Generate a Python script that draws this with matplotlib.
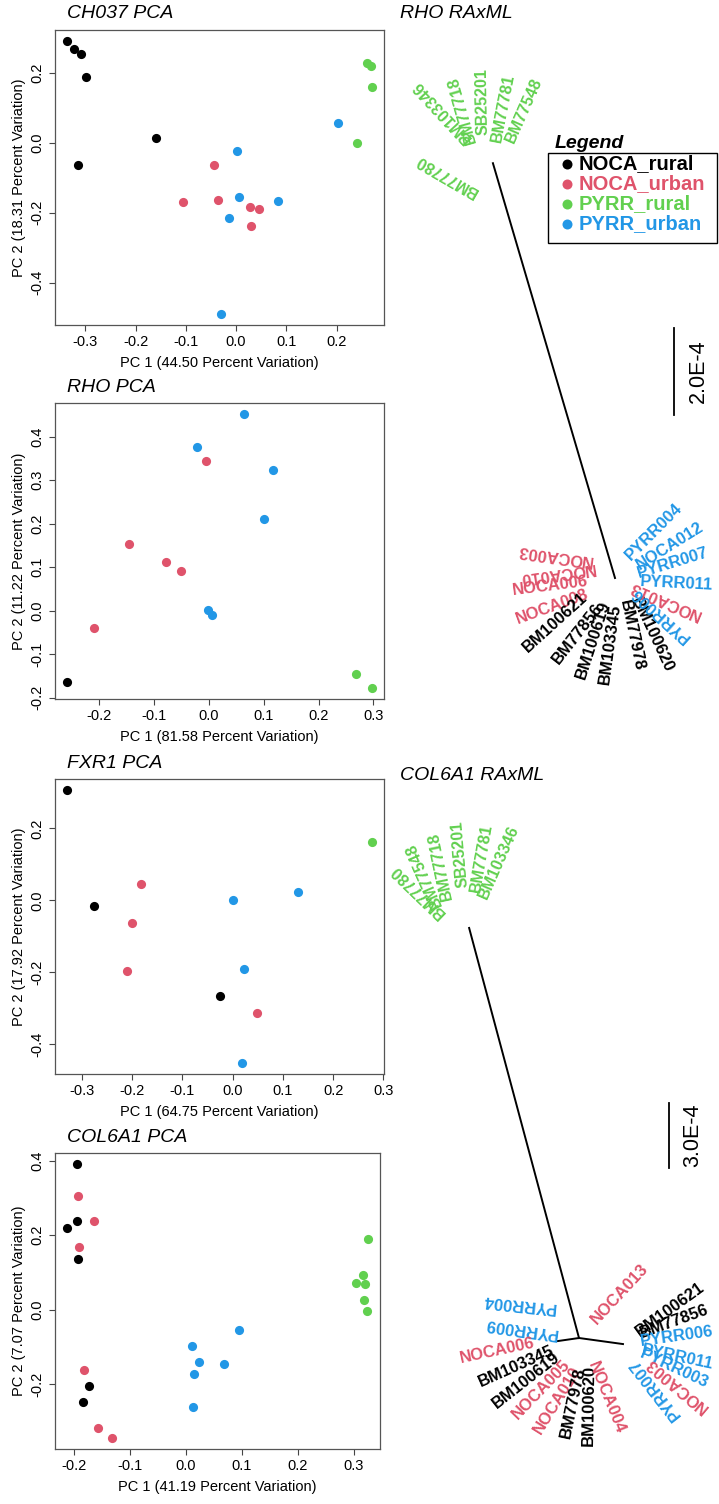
import numpy as np
import matplotlib.pyplot as plt
from matplotlib.patches import Rectangle
from matplotlib.lines import Line2D
from matplotlib.ticker import MultipleLocator, FuncFormatter

plt.rcParams['font.family'] = ['Liberation Sans', 'DejaVu Sans']
plt.rcParams['axes.unicode_minus'] = False

W, H = 719, 1504

# groups and colours (R 4 default palette)
group_names = ['NOCA_rural', 'NOCA_urban', 'PYRR_rural', 'PYRR_urban']
group_colors = ['#000000', '#DF536B', '#61D04F', '#2297E6']

# ---- PCA data (0 = NOCA_rural, 1 = NOCA_urban, 2 = PYRR_rural, 3 = PYRR_urban)
ch037_pc1 = [-0.336, -0.322, -0.308, -0.299, -0.159, -0.315,
             -0.105, -0.043, -0.035, 0.028, 0.046, 0.029,
             0.261, 0.268, 0.270, 0.241,
             0.001, 0.005, -0.015, 0.084, 0.203, -0.030]
ch037_pc2 = [0.291, 0.267, 0.255, 0.188, 0.013, -0.065,
             -0.170, -0.064, -0.164, -0.185, -0.190, -0.239,
             0.229, 0.218, 0.158, 0.000,
             -0.024, -0.154, -0.214, -0.167, 0.057, -0.490]
ch037_grp = [0] * 6 + [1] * 6 + [2] * 4 + [3] * 6

rho_pc1 = [-0.258,
           -0.210, -0.145, -0.078, -0.051, -0.006,
           0.269, 0.297,
           0.065, -0.022, 0.117, 0.101, -0.001, 0.005]
rho_pc2 = [-0.165,
           -0.040, 0.153, 0.112, 0.091, 0.344,
           -0.145, -0.178,
           0.452, 0.376, 0.323, 0.211, 0.001, -0.009]
rho_grp = [0] + [1] * 5 + [2] * 2 + [3] * 6

fxr1_pc1 = [-0.329, -0.275, -0.026,
            -0.182, -0.201, -0.211, 0.049,
            0.277,
            0.000, 0.130, 0.022, 0.019]
fxr1_pc2 = [0.307, -0.016, -0.267,
            0.045, -0.062, -0.195, -0.312,
            0.163,
            0.000, 0.023, -0.190, -0.452]
fxr1_grp = [0] * 3 + [1] * 4 + [2] + [3] * 4

col6a1_pc1 = [-0.195, -0.195, -0.2125, -0.193, -0.1725, -0.1845,
              -0.193, -0.165, -0.192, -0.182, -0.157, -0.1325,
              0.325, 0.303, 0.317, 0.320, 0.318, 0.323,
              0.095, 0.010, 0.023, 0.067, 0.015, 0.012]
col6a1_pc2 = [0.391, 0.2375, 0.219, 0.135, -0.204, -0.247,
              0.304, 0.239, 0.167, -0.161, -0.316, -0.344,
              0.190, 0.072, 0.092, 0.068, 0.025, -0.003,
              -0.055, -0.096, -0.141, -0.146, -0.172, -0.261]
col6a1_grp = [0] * 6 + [1] * 6 + [2] * 6 + [3] * 6

pca_titles = ['CH037 PCA', 'RHO PCA', 'FXR1 PCA', 'COL6A1 PCA']
pca_pc1_var = ['44.50', '81.58', '64.75', '41.19']
pca_pc2_var = ['18.31', '11.22', '17.92', '7.07']
pca_ystep = [0.2, 0.1, 0.2, 0.2]

# ---- RAxML trees (branch lengths in units of 1e-4 substitutions)
rho_branch_len, rho_branch_ang = 9.94, 106.4
rho_green_names = ['BM103346', 'BM77718', 'SB25201', 'BM77781', 'BM77548', 'BM77780']
rho_green_dx = [-0.57, -0.48, -0.23, 0.09, 0.39, -0.37]
rho_green_dy = [0.53, 0.46, 0.64, 0.48, 0.48, -0.69]
rho_green_rot = [133, 106, 91, 79, 66, 150]

rho_tip_names = ['NOCA003', 'NOCA010', 'NOCA006', 'NOCA008',
                 'BM100621', 'BM77856', 'BM100619', 'BM103345', 'BM77978', 'BM100620',
                 'PYRR004', 'NOCA012', 'PYRR007', 'PYRR011', 'NOCA013', 'PYRR006']
rho_tip_grp = [1, 1, 1, 1, 0, 0, 0, 0, 0, 0, 3, 3, 3, 3, 1, 3]
rho_tip_dx = [-0.53, -0.46, -0.62, -0.62, -0.69, -0.34, -0.21, 0.02, 0.21, 0.46,
              0.30, 0.51, 0.53, 0.57, 0.34, 0.41]
rho_tip_dy = [0.41, 0.25, -0.07, -0.37, -0.41, -0.64, -0.55, -0.60, -0.51, -0.46,
              0.46, 0.28, 0.11, -0.09, -0.16, -0.28]
rho_tip_rot = [172, 188, 7, 20, 42, 52, 72, 82, -78, -65, 45, 32, 17, -3, 157, 138]
rho_tip_ha = ['left', 'left', 'right', 'right', 'right', 'right', 'right', 'right',
              'left', 'left', 'left', 'left', 'left', 'left', 'right', 'right']

col_branch_len, col_branch_ang = 19.59, 105.0
col_sub_dx = [-0.97, 2.03]
col_sub_dy = [-0.14, -0.28]
col_green_names = ['BM77780', 'BM77548', 'BM77718', 'SB25201', 'BM77781', 'BM103346']
col_green_dx = [-1.20, -1.43, -1.02, -0.28, 0.28, 0.65]
col_green_dy = [0.60, 0.97, 1.29, 1.85, 1.66, 1.38]
col_green_rot = [136, 114, 102, 95, 80, 66]

col_tip_names = ['PYRR004', 'PYRR009', 'NOCA006', 'BM103345', 'BM100619', 'NOCA005',
                 'NOCA010', 'BM77978', 'BM100620', 'NOCA004', 'NOCA013',
                 'BM100621', 'BM77856', 'PYRR006', 'PYRR011', 'PYRR003', 'NOCA003', 'PYRR007']
col_tip_grp = [3, 3, 1, 0, 0, 1, 1, 0, 0, 1, 1, 0, 0, 3, 3, 3, 1, 3]
col_tip_dx = [-1.11, -1.02, -2.03, -1.20, -0.97, -0.51, -0.09, 0.09, 0.51, 0.60, 0.69,
              2.68, 2.81, 2.81, 2.91, 2.85, 3.18, 2.45]
col_tip_dy = [1.43, 0.23, -0.23, -0.55, -0.83, -1.11, -1.38, -1.34, -1.25, -1.11, 0.74,
              0.23, 0.18, -0.18, -0.55, -0.70, -1.02, -1.02]
col_tip_rot = [174, 172, 12, 24, 38, 46, 58, 78, 89, -68, 47, 36, 20, 8, -12, -25, 140, 128]
col_tip_ha = ['left', 'left', 'right', 'right', 'right', 'right', 'right', 'right', 'right',
              'left', 'left', 'left', 'left', 'left', 'left', 'left', 'right', 'right']


fig = plt.figure(figsize=(W / 100, H / 100), dpi=100)


def px_axes(l, t, r, b):
    return fig.add_axes([l / W, 1 - b / H, (r - l) / W, (b - t) / H])


def fmt(v, p):
    return f'{round(v, 1) + 0:.1f}'


pca_x = [ch037_pc1, rho_pc1, fxr1_pc1, col6a1_pc1]
pca_y = [ch037_pc2, rho_pc2, fxr1_pc2, col6a1_pc2]
pca_g = [ch037_grp, rho_grp, fxr1_grp, col6a1_grp]
pca_box = [(55, 30, 384, 325), (55, 403, 384, 699), (55, 779, 384, 1074), (55, 1153, 380, 1449)]

for i in range(4):
    l, t, r, b = pca_box[i]
    ax = px_axes(l, t, r, b)
    x = np.array(pca_x[i])
    y = np.array(pca_y[i])
    g = np.array(pca_g[i])
    for k in range(4):
        m = g == k
        ax.plot(x[m], y[m], 'o', ms=6.6, mew=0, color=group_colors[k])
    ax.margins(0.04)
    ax.xaxis.set_major_locator(MultipleLocator(0.1))
    ax.yaxis.set_major_locator(MultipleLocator(pca_ystep[i]))
    ax.xaxis.set_major_formatter(FuncFormatter(fmt))
    ax.yaxis.set_major_formatter(FuncFormatter(fmt))
    ax.tick_params(direction='out', length=4.5, width=0.8, color='#444444',
                   labelsize=10.5, pad=3)
    plt.setp(ax.get_yticklabels(), rotation=90, va='center')
    for s in ax.spines.values():
        s.set_color('#555555')
        s.set_linewidth(0.9)
    w, h = r - l, b - t
    ax.text(0.5, -38 / h, f'PC 1 ({pca_pc1_var[i]} Percent Variation)', transform=ax.transAxes,
            ha='center', va='center', fontsize=10.5)
    ax.text(-36 / w, 0.5, f'PC 2 ({pca_pc2_var[i]} Percent Variation)', transform=ax.transAxes,
            ha='center', va='center', rotation=90, fontsize=10.5)
    fig.text(67 / W, 1 - (t - 16) / H, pca_titles[i], ha='left', va='center',
             fontsize=14, style='italic')


def tree_axes(box, root, scale):
    l, t, r, b = box
    ax = px_axes(l, t, r, b)
    ax.set_xlim((l - root[0]) / scale, (r - root[0]) / scale)
    ax.set_ylim((root[1] - b) / scale, (root[1] - t) / scale)
    ax.axis('off')
    return ax


def put_labels(ax, ox, oy, names, grp, dx, dy, rot, ha, size):
    for n, c, a, b_, rr, h in zip(names, grp, dx, dy, rot, ha):
        ax.text(ox + a, oy + b_, n, color=group_colors[c], rotation=rr,
                rotation_mode='anchor', ha=h, va='center', fontsize=size,
                weight='bold')


# ---- RHO tree
ax = tree_axes((395, 0, 719, 750), (615, 578), 43.5)
gx = rho_branch_len * np.cos(np.radians(rho_branch_ang))
gy = rho_branch_len * np.sin(np.radians(rho_branch_ang))
ax.plot([0, gx], [0, gy], color='black', lw=1.4)
put_labels(ax, gx, gy, rho_green_names, [2] * 6, rho_green_dx, rho_green_dy,
           rho_green_rot, ['left'] * 6, 11.5)
put_labels(ax, 0, 0, rho_tip_names, rho_tip_grp, rho_tip_dx, rho_tip_dy,
           rho_tip_rot, rho_tip_ha, 12)
ax.plot([1.356, 1.356], [3.747, 3.747 + 2.0], color='black', lw=1.3)
ax.text(1.908, 3.747 + 1.0, '2.0E-4', rotation=90, ha='center', va='center', fontsize=15.5)
fig.text(400 / W, 1 - 14 / H, 'RHO RAxML', ha='left', va='center', fontsize=14, style='italic')

# ---- COL6A1 tree
ax = tree_axes((395, 760, 719, 1504), (579, 1338), 21.67)
gx = col_branch_len * np.cos(np.radians(col_branch_ang))
gy = col_branch_len * np.sin(np.radians(col_branch_ang))
ax.plot([0, gx], [0, gy], color='black', lw=1.4)
for sx, sy in zip(col_sub_dx, col_sub_dy):
    ax.plot([0, sx], [0, sy], color='black', lw=1.4)
put_labels(ax, gx, gy, col_green_names, [2] * 6, col_green_dx, col_green_dy,
           col_green_rot, ['left'] * 6, 11.5)
put_labels(ax, 0, 0, col_tip_names, col_tip_grp, col_tip_dx, col_tip_dy,
           col_tip_rot, col_tip_ha, 12)
ax.plot([4.15, 4.15], [7.85, 7.85 + 3.0], color='black', lw=1.3)
ax.text(5.26, 7.85 + 1.5, '3.0E-4', rotation=90, ha='center', va='center', fontsize=15.5)
fig.text(400 / W, 1 - 775 / H, 'COL6A1 RAxML', ha='left', va='center', fontsize=14, style='italic')

# ---- legend
fig.add_artist(Rectangle((548 / W, 1 - 243 / H), (717 - 548) / W, (243 - 153) / H,
                         transform=fig.transFigure, fill=False, ec='black', lw=1.0))
fig.text(555 / W, 1 - 144 / H, 'Legend', ha='left', va='center', fontsize=14,
         style='italic', weight='bold')
for k, name in enumerate(group_names):
    yy = 1 - (164 + 20 * k) / H
    fig.add_artist(Line2D([567 / W], [yy], marker='o', ms=7.2, mew=0,
                          color=group_colors[k], transform=fig.transFigure))
    fig.text(579 / W, yy, name, ha='left', va='center', fontsize=14.5,
             weight='bold', color=group_colors[k])

fig.savefig('out.png', dpi=100)
